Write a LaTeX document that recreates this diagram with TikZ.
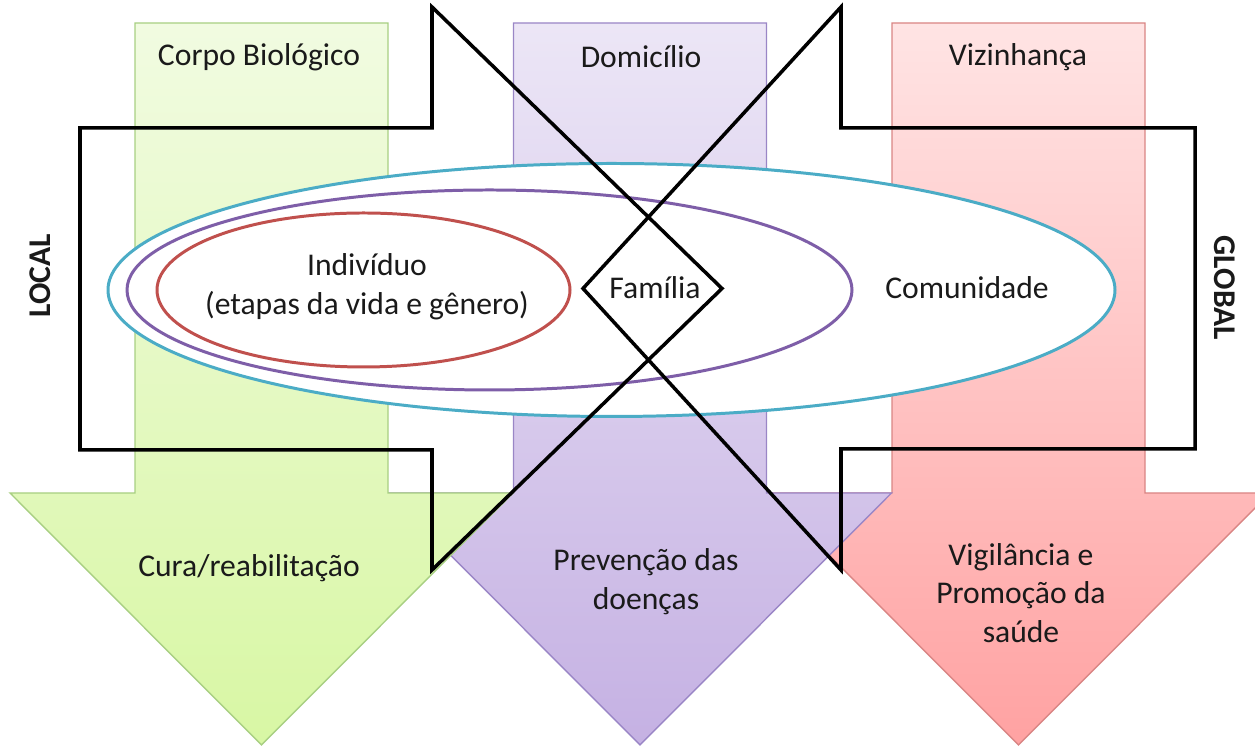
\documentclass[tikz,border=0pt]{standalone}
\usepackage{fontspec}
\setmainfont{Carlito}
\usepackage{xcolor}
\usepackage{tikz}
\usetikzlibrary{positioning}
\definecolor{ink}{HTML}{1A1A1A}
\definecolor{greentop}{HTML}{F1FBE1}
\definecolor{greenbot}{HTML}{D8F7A4}
\definecolor{greenline}{HTML}{A8CF82}
\definecolor{violettop}{HTML}{ECE6F6}
\definecolor{violetbot}{HTML}{C5B1E3}
\definecolor{violetline}{HTML}{9A86C6}
\definecolor{redtop}{HTML}{FFE4E4}
\definecolor{redbot}{HTML}{FFA2A2}
\definecolor{redline}{HTML}{D98584}
\definecolor{ringcyan}{HTML}{4BACC6}
\definecolor{ringviolet}{HTML}{7E5EA8}
\definecolor{ringred}{HTML}{C0504D}

\begin{document}
\begin{tikzpicture}[font=\fontsize{18}{22}\selectfont]
\tikzset{band/.style={line width=0.8pt,line join=miter}, ring/.style={draw=#1,fill=white,line width=1.7pt}, outline/.style={draw=black,line width=2pt,line join=miter}, lbl/.style={text=ink,align=center,inner sep=1pt}}
\useasboundingbox (0,0) rectangle (25.1,14.96);
\clip (0,0) rectangle (25.1,14.96);
% three downward arrows, right one first
\foreach \cx/\ca/\cb/\ce in {20.37/redtop/redbot/redline,12.80/violettop/violetbot/violetline,5.23/greentop/greenbot/greenline} {
  \draw[band,draw=\ce,top color=\ca,bottom color=\cb] (\cx-2.53,14.5) -- (\cx+2.53,14.5) -- (\cx+2.53,5.1) -- (\cx+5.03,5.1) -- (\cx,0.06) -- (\cx-5.03,5.1) -- (\cx-2.53,5.1) -- cycle;
}
% nested rings
\draw[ring=ringcyan] (12.23,9.16) ellipse [x radius=10.07,y radius=2.53];
\draw[ring=ringviolet] (9.79,9.16) ellipse [x radius=7.25,y radius=2.0];
\draw[ring=ringred] (7.27,9.16) ellipse [x radius=4.13,y radius=1.54];
% local and global outlines
\draw[outline] (8.64,14.82) -- (14.44,9.19) -- (8.64,3.56) -- (8.64,5.96) -- (1.60,5.96) -- (1.60,12.40) -- (8.64,12.40) -- cycle;
\draw[outline] (16.82,14.82) -- (11.66,9.19) -- (16.82,3.56) -- (16.82,5.98) -- (23.90,5.98) -- (23.90,12.40) -- (16.82,12.40) -- cycle;
\node[lbl] (corpo) at (5.18,13.82) {Corpo Biológico};
\node[lbl] (domicilio) at (12.82,13.82) {Domicílio};
\node[lbl] (vizinhanca) at (20.36,13.82) {Vizinhança};
\node[lbl] (individuo) at (7.34,9.22) {Indivíduo\\(etapas da vida e gênero)};
\node[lbl] (familia) at (13.10,9.20) {Família};
\node[lbl] (comunidade) at (19.34,9.20) {Comunidade};
\node[lbl,font=\fontsize{18}{22}\selectfont\bfseries,rotate=90] (local) at (0.80,9.44) {LOCAL};
\node[lbl,font=\fontsize{18}{22}\selectfont\bfseries,rotate=-90] (global) at (24.50,9.20) {GLOBAL};
\node[lbl] (cura) at (4.98,3.60) {Cura/reabilitação};
\node[lbl] (prevencao) at (12.92,3.32) {Prevenção das\\doenças};
\node[lbl] (vigilancia) at (20.42,3.10) {Vigilância e\\Promoção da\\saúde};
\end{tikzpicture}
\end{document}
